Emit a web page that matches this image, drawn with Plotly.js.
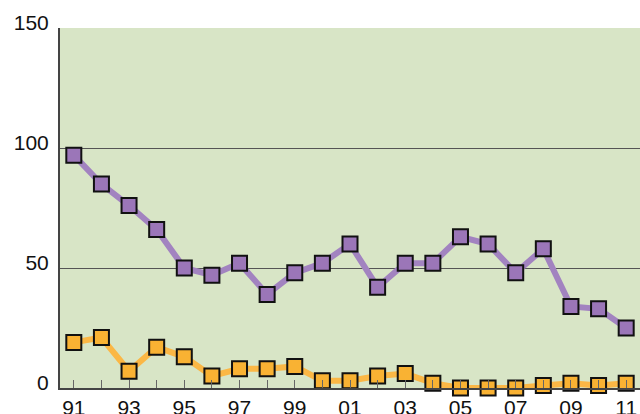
<!DOCTYPE html>
<html><head><meta charset="utf-8">
<script src="https://cdn.plot.ly/plotly-3.0.1.min.js"></script>
<style>html,body{margin:0;padding:0;background:#fff}#c{width:640px;height:414px}</style>
</head><body><div id="c"></div>
<script>
const years = [1991,1992,1993,1994,1995,1996,1997,1998,1999,2000,2001,2002,2003,2004,2005,2006,2007,2008,2009,2010,2011];
const purpleSeries = [97,85,76,66,50,47,52,39,48,52,60,42,52,52,63,60,48,58,34,33,25];
const orangeSeries = [19,21,7,17,13,5,8,8,9,3,3,5,6,2,0,0,0,1,2,1,2];
const xTickVals = [1991,1993,1995,1997,1999,2001,2003,2005,2007,2009,2011];
const xTickText = ['91','93','95','97','99','01','03','05','07','09','11'];
const yTickVals = [0,50,100,150];

const mk = (c) => ({symbol:'square', size:15, color:c, line:{color:'#111', width:2}});
const traces = [
  {x:years, y:orangeSeries, mode:'lines+markers', line:{color:'#fbb745', width:6}, marker:mk('#f9b233'), cliponaxis:false},
  {x:years, y:purpleSeries, mode:'lines+markers', line:{color:'#a283c0', width:6}, marker:mk('#9b76b8'), cliponaxis:false}
];
const layout = {
  width:640, height:414,
  margin:{l:60, r:0, t:28, b:26},
  paper_bgcolor:'#ffffff', plot_bgcolor:'#d8e5c6',
  showlegend:false,
  font:{family:'Liberation Sans, Arial, sans-serif', size:21, color:'#111'},
  xaxis:{range:[1990.5, 2011.5], tickvals:xTickVals, ticktext:xTickText, ticks:'inside', ticklen:8, tickcolor:'#666', tickwidth:1,
         minor:{dtick:1, tick0:1991, ticks:'inside', ticklen:8, tickcolor:'#666', tickwidth:1, showgrid:false},
         showgrid:false, zeroline:false, showline:true, linecolor:'#444', linewidth:2, ticklabelstandoff:0, fixedrange:true},
  yaxis:{range:[0,150], tickvals:yTickVals, ticks:'', showgrid:true, gridcolor:'#555', gridwidth:1, zeroline:false,
         showline:true, linecolor:'#444', linewidth:2, ticklabelshift:-5, ticklabelstandoff:5, fixedrange:true}
};
Plotly.newPlot('c', traces, layout, {displayModeBar:false, staticPlot:true});
</script></body></html>
